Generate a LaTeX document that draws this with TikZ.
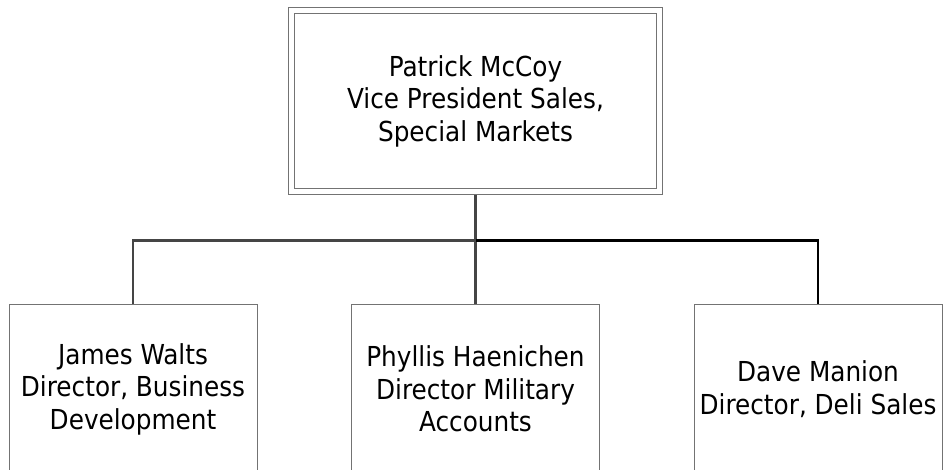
\documentclass[tikz,border=0pt]{standalone}
\usepackage{fontspec}
\setmainfont{DejaVu Sans Condensed}
\usepackage{xcolor}
\usepackage{tikz}
\usetikzlibrary{positioning,calc}
\definecolor{boxgray}{gray}{0.45}
\definecolor{linkgray}{gray}{0.27}
\tikzset{
  orgtxt/.style={align=center,font=\fontsize{27.5}{32.5}\selectfont},
  chiefbox/.style={orgtxt,draw=boxgray,line width=0.9pt,double=white,double distance=5pt,
    minimum width=368pt,minimum height=181pt,outer sep=3.4pt,inner sep=0pt},
  staffbox/.style={orgtxt,draw=boxgray,line width=0.8pt,minimum width=248pt,minimum height=170pt,inner sep=0pt},
  linkA/.style={linkgray,line width=2.8pt},
  linkB/.style={black,line width=2.8pt},
}
\begin{document}
\begin{tikzpicture}[x=1pt,y=-1pt]
  \useasboundingbox (0,0) rectangle (943,470);
  \clip (0,0) rectangle (943,470);
  \fill[white] (0,0) rectangle (943,470);
  % top of the chart
  \node[chiefbox] (chief) at (475.5,101) {Patrick McCoy\\Vice President Sales,\\Special Markets};
  % directors
  \node[staffbox] (walts) at (133,389) {James Walts\\Director, Business\\Development};
  \node[staffbox] (haenichen) at (475.5,389) {Phyllis Haenichen\\Director Military\\Accounts};
  \node[staffbox] (manion) at (818,389) {Dave Manion\\Director, Deli Sales};
  \coordinate (hub) at ($(chief.south)+(0,46)$);
  % connectors
  \draw[linkA] (chief.south) -- (hub);
  \draw[linkA] (hub) -| (walts.north);
  \draw[linkA] (hub) -- (haenichen.north);
  \draw[linkB] (hub) -| (manion.north);
\end{tikzpicture}
\end{document}
